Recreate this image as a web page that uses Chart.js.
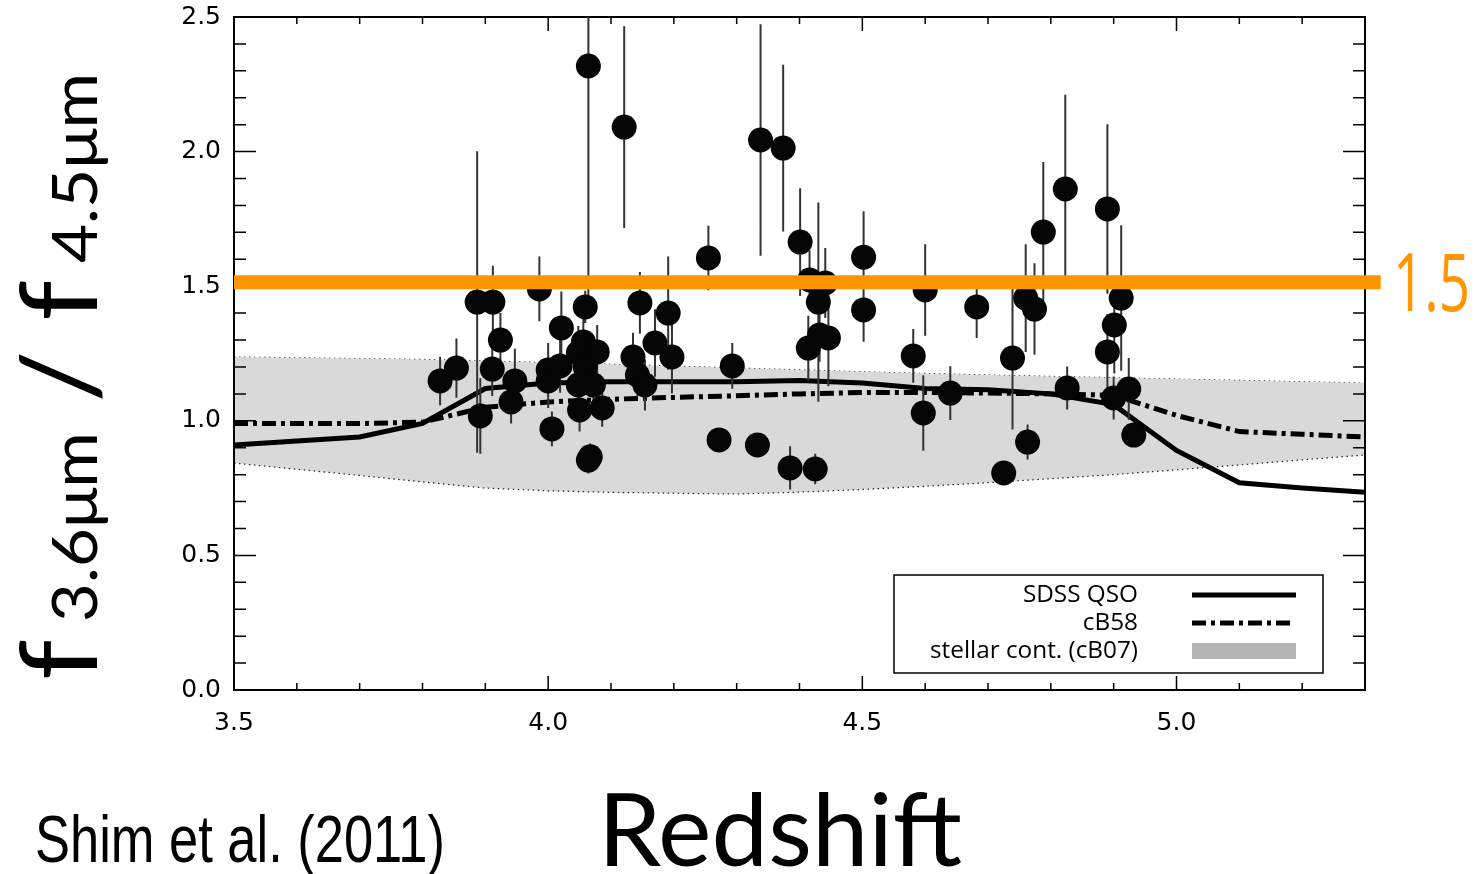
<!DOCTYPE html>
<html>
<head>
<meta charset="utf-8">
<script src="https://cdn.jsdelivr.net/npm/chart.js@4.4.1/dist/chart.umd.min.js"></script>
<style>
  html, body { margin: 0; padding: 0; background: #fff; }
</style>
</head>
<body>
<canvas id="ratioChart" width="1477" height="874"></canvas>
<script>
// quasars: redshift, IRAC flux ratio f3.6/f4.5 and its 1-sigma error
const redshift = [
  3.828, 3.854, 3.887, 3.912, 3.924, 3.911, 3.892, 3.947, 3.941, 3.986,
  4.021, 4.000, 4.000, 4.019, 4.006, 4.059, 4.056, 4.078, 4.048, 4.059,
  4.048, 4.072, 4.050, 4.086, 4.067, 4.064, 4.064, 4.121, 4.146, 4.191,
  4.170, 4.197, 4.135, 4.142, 4.154, 4.255, 4.293, 4.272, 4.333, 4.338,
  4.374, 4.385, 4.425, 4.401, 4.416, 4.441, 4.430, 4.414, 4.446, 4.432,
  4.502, 4.502, 4.600, 4.581, 4.597, 4.640, 4.682, 4.739, 4.763, 4.725,
  4.760, 4.774, 4.788, 4.823, 4.826, 4.890, 4.912, 4.901, 4.890, 4.900,
  4.924, 4.932
];
const fluxRatio = [
  1.148, 1.196, 1.441, 1.441, 1.300, 1.192, 1.018, 1.148, 1.070, 1.490,
  1.345, 1.189, 1.148, 1.204, 0.970, 1.423, 1.293, 1.256, 1.252, 1.200,
  1.133, 1.133, 1.040, 1.048, 0.866, 0.854, 2.318, 2.091, 1.438, 1.400,
  1.289, 1.237, 1.237, 1.170, 1.133, 1.605, 1.204, 0.929, 0.910, 2.043,
  2.013, 0.825, 0.821, 1.664, 1.523, 1.512, 1.441, 1.270, 1.308, 1.319,
  1.608, 1.412, 1.486, 1.241, 1.029, 1.103, 1.423, 1.233, 0.921, 0.806,
  1.456, 1.415, 1.701, 1.861, 1.122, 1.787, 1.456, 1.356, 1.256, 1.085,
  1.118, 0.947
];
const fluxRatioErr = [
  0.09, 0.11, 0.56, 0.135, 0.10, 0.10, 0.14, 0.12, 0.08, 0.12,
  0.135, 0.10, 0.10, 0.10, 0.065, 0.06, 0.10, 0.10, 0.10, 0.08,
  0.08, 0.08, 0.08, 0.07, 0.05, 0.05, 0.90, 0.375, 0.115, 0.21,
  0.125, 0.135, 0.09, 0.08, 0.095, 0.12, 0.085, 0.00, 0.03, 0.43,
  0.31, 0.08, 0.057, 0.20, 0.11, 0.13, 0.37, 0.12, 0.18, 0.10,
  0.17, 0.118, 0.17, 0.10, 0.14, 0.10, 0.115, 0.265, 0.065, 0.00,
  0.20, 0.17, 0.26, 0.35, 0.08, 0.315, 0.27, 0.18, 0.14, 0.08,
  0.115, 0.00
];

// model tracks, sampled every 0.1 in redshift
const modelZ = [3.5, 3.6, 3.7, 3.8, 3.9, 4.0, 4.1, 4.2, 4.3, 4.4, 4.5, 4.6, 4.7, 4.8, 4.9, 5.0, 5.1, 5.2, 5.3];
const sdssQso = [0.91, 0.925, 0.94, 0.99, 1.12, 1.14, 1.145, 1.145, 1.145, 1.15, 1.14, 1.12, 1.115, 1.10, 1.06, 0.89, 0.77, 0.75, 0.735];
const cb58 = [0.99, 0.99, 0.99, 0.995, 1.05, 1.07, 1.08, 1.087, 1.093, 1.10, 1.105, 1.105, 1.103, 1.10, 1.095, 1.02, 0.96, 0.95, 0.94];
const stellarUpper = [1.237, 1.234, 1.231, 1.228, 1.222, 1.216, 1.210, 1.203, 1.196, 1.189, 1.182, 1.176, 1.170, 1.165, 1.160, 1.155, 1.150, 1.145, 1.140];
const stellarLower = [0.843, 0.820, 0.797, 0.773, 0.750, 0.740, 0.734, 0.731, 0.728, 0.735, 0.745, 0.757, 0.770, 0.785, 0.800, 0.818, 0.836, 0.855, 0.873];

const cutRatio = 1.515;
const cutLabel = '1.5';
const legendLabels = ['SDSS QSO', 'cB58', 'stellar cont. (cB07)'];

const ORANGE = '#ff9500';
const BAND_GRAY = '#d9d9d9';
const dashDot = [14, 5, 4, 5];

const track = (ys) => modelZ.map((z, i) => ({ x: z, y: ys[i] }));
const POINTS = 6;
const BAND_LOWER = 1;

// stretch text along its run so it covers a given length
function fitText(ctx, text, x, y, width, align) {
  const w = ctx.measureText(text).width;
  ctx.save();
  ctx.translate(x, y);
  ctx.scale(width / w, 1);
  ctx.textAlign = align || 'left';
  ctx.fillText(text, 0, 0);
  ctx.restore();
}

const frameTicks = {
  id: 'frameTicks',
  afterDatasetDraw(chart, args) {
    if (args.index !== BAND_LOWER) return;
    const { ctx, chartArea: a, scales: { x, y } } = chart;
    ctx.save();
    ctx.strokeStyle = '#000';
    ctx.lineWidth = 1.5;
    ctx.beginPath();
    for (let i = 0; i <= 18; i++) {
      const px = x.getPixelForValue(3.5 + i * 0.1);
      const len = i % 5 === 0 ? 14 : 7;
      ctx.moveTo(px, a.bottom); ctx.lineTo(px, a.bottom - len);
      ctx.moveTo(px, a.top); ctx.lineTo(px, a.top + len);
    }
    for (let i = 0; i <= 25; i++) {
      const py = y.getPixelForValue(i * 0.1);
      const len = i % 5 === 0 ? 22 : 12;
      ctx.moveTo(a.left, py); ctx.lineTo(a.left + len, py);
      ctx.moveTo(a.right, py); ctx.lineTo(a.right - len, py);
    }
    ctx.stroke();
    ctx.lineWidth = 2;
    ctx.strokeRect(a.left, a.top, a.right - a.left, a.bottom - a.top);
    ctx.restore();
  }
};

const errorBars = {
  id: 'errorBars',
  beforeDatasetDraw(chart, args) {
    if (args.index !== POINTS) return;
    const { ctx, chartArea: a, scales: { x, y } } = chart;
    ctx.save();
    ctx.beginPath();
    ctx.rect(a.left, a.top, a.right - a.left, a.bottom - a.top);
    ctx.clip();
    ctx.strokeStyle = '#333';
    ctx.lineWidth = 2;
    ctx.beginPath();
    redshift.forEach((z, i) => {
      if (!fluxRatioErr[i]) return;
      const px = x.getPixelForValue(z);
      ctx.moveTo(px, y.getPixelForValue(fluxRatio[i] - fluxRatioErr[i]));
      ctx.lineTo(px, y.getPixelForValue(fluxRatio[i] + fluxRatioErr[i]));
    });
    ctx.stroke();
    ctx.restore();
  }
};

const annotations = {
  id: 'annotations',
  afterDraw(chart) {
    const { ctx, scales: { y } } = chart;
    ctx.save();
    ctx.fillStyle = '#000';
    ctx.textBaseline = 'alphabetic';

    // legend box
    ctx.lineWidth = 1.5;
    ctx.strokeStyle = '#000';
    ctx.strokeRect(894, 575, 429, 98);
    ctx.font = '23px "Open Sans", sans-serif';
    const sx = 208 / ctx.measureText(legendLabels[2]).width;
    const rows = [602, 630, 658];
    legendLabels.forEach((t, i) => {
      const w = ctx.measureText(t).width * sx;
      fitText(ctx, t, 1138 - w, rows[i], w);
    });
    ctx.lineWidth = 5;
    ctx.beginPath(); ctx.moveTo(1192, 595); ctx.lineTo(1296, 595); ctx.stroke();
    ctx.setLineDash(dashDot);
    ctx.beginPath(); ctx.moveTo(1192, 623); ctx.lineTo(1294, 623); ctx.stroke();
    ctx.setLineDash([]);
    ctx.fillStyle = '#b4b4b4';
    ctx.fillRect(1192, 643, 104, 16);

    // orange cut label
    ctx.fillStyle = ORANGE;
    ctx.font = '80px "Open Sans", sans-serif';
    fitText(ctx, cutLabel, 1393, y.getPixelForValue(cutRatio) + 29, 77);

    // axis titles
    ctx.fillStyle = '#000';
    ctx.font = '100px Lato, sans-serif';
    fitText(ctx, 'Redshift', 598, 866, 364);
    ctx.font = '66px "Liberation Sans Narrow", "Liberation Sans", sans-serif';
    fitText(ctx, 'Shim et al. (2011)', 35, 862, 410);

    // rotated y title with subscripts
    const parts = [
      ['f', 106], [' 3.6μm', 62], [' / ', 106], ['f', 106], [' 4.5μm', 62]
    ];
    let total = 0;
    const widths = parts.map(([t, s]) => {
      ctx.font = s + 'px Lato, sans-serif';
      const w = ctx.measureText(t).width;
      total += w;
      return w;
    });
    ctx.translate(97, 680);
    ctx.rotate(-Math.PI / 2);
    ctx.scale(607 / total, 1);
    let pos = 0;
    parts.forEach(([t, s], i) => {
      ctx.font = s + 'px Lato, sans-serif';
      ctx.fillText(t, pos, 0);
      pos += widths[i];
    });
    ctx.restore();
  }
};

new Chart(document.getElementById('ratioChart'), {
  type: 'line',
  data: {
    datasets: [
      {
        data: track(stellarUpper), order: 6,
        borderColor: '#222', borderWidth: 1.2, borderDash: [1.5, 3.5],
        pointRadius: 0, fill: false
      },
      {
        data: track(stellarLower), order: 5,
        borderColor: '#222', borderWidth: 1.2, borderDash: [1.5, 3.5],
        pointRadius: 0, fill: '-1', backgroundColor: BAND_GRAY
      },
      {
        data: track(sdssQso), order: 3,
        borderColor: '#000', borderWidth: 5, pointRadius: 0, fill: false
      },
      {
        data: track(cb58), order: 2,
        borderColor: '#000', borderWidth: 5, borderDash: dashDot, pointRadius: 0, fill: false
      },
      {
        data: [{ x: 3.5, y: cutRatio }, { x: 5.325, y: cutRatio }], order: 0,
        borderColor: ORANGE, borderWidth: 14, borderCapStyle: 'butt',
        pointRadius: 0, fill: false, clip: false
      },
      { data: [], hidden: true },
      {
        type: 'scatter', order: 1,
        data: redshift.map((z, i) => ({ x: z, y: fluxRatio[i] })),
        backgroundColor: '#050505', borderWidth: 0, pointRadius: 12.5
      }
    ]
  },
  options: {
    responsive: false,
    animation: false,
    devicePixelRatio: 1,
    layout: { padding: { left: 0, right: 112, top: 17, bottom: 0 } },
    plugins: { legend: { display: false }, tooltip: { enabled: false } },
    scales: {
      x: {
        type: 'linear', min: 3.5, max: 5.3,
        grid: { display: false, drawTicks: false },
        border: { display: false },
        ticks: {
          stepSize: 0.5, includeBounds: false, padding: 18,
          color: '#000', font: { family: '"DejaVu Sans"', size: 25 },
          callback: (v) => v.toFixed(1)
        },
        afterFit: (s) => { s.height = 184; s.paddingLeft = 0; s.paddingRight = 0; }
      },
      y: {
        min: 0, max: 2.5,
        grid: { display: false, drawTicks: false },
        border: { display: false },
        ticks: {
          stepSize: 0.5, padding: 13,
          color: '#000', font: { family: '"DejaVu Sans"', size: 25 },
          callback: (v) => v.toFixed(1)
        },
        afterFit: (s) => { s.width = 234; s.paddingTop = 0; s.paddingBottom = 0; }
      }
    }
  },
  plugins: [frameTicks, errorBars, annotations]
});
</script>
</body>
</html>
